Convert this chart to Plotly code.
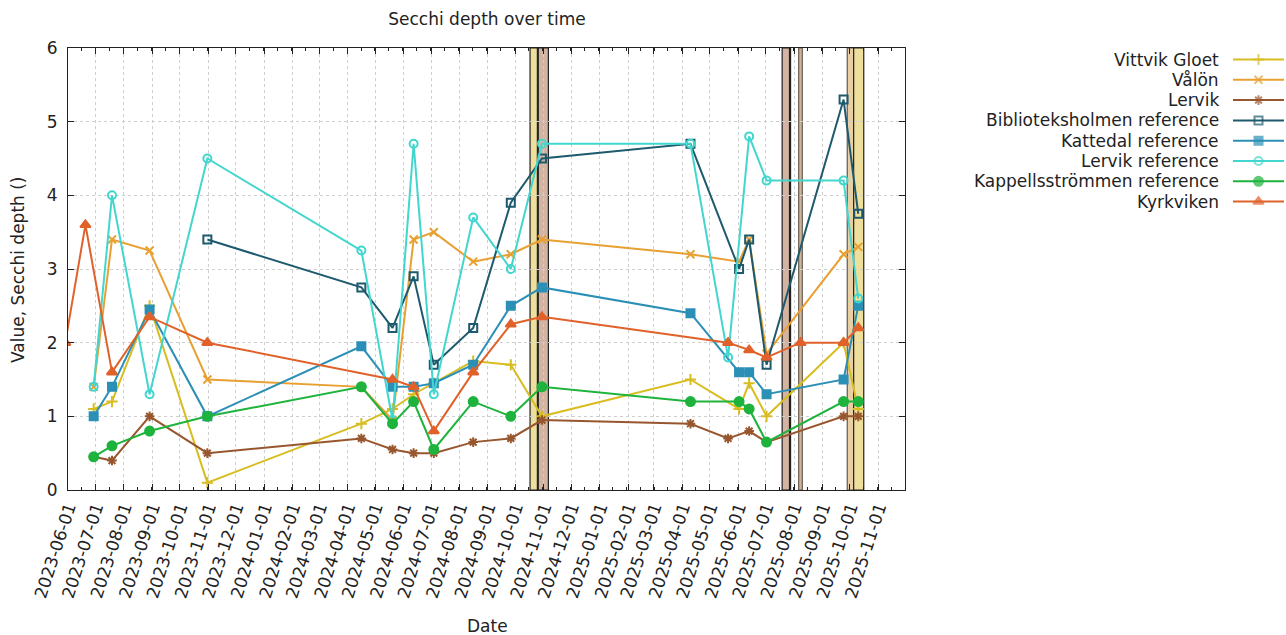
import plotly.graph_objects as go

# ---------------- data ----------------
series_names = [
    "Vittvik Gloet", "Vålön", "Lervik", "Biblioteksholmen reference",
    "Kattedal reference", "Lervik reference", "Kappellsströmmen reference", "Kyrkviken",
]

vittvik_dates = ["2023-06-29", "2023-07-19", "2023-08-29", "2023-10-31", "2024-04-16", "2024-05-20",
                 "2024-06-12", "2024-07-04", "2024-08-16", "2024-09-26", "2024-10-30", "2025-04-10",
                 "2025-06-02", "2025-06-13", "2025-07-02", "2025-09-24", "2025-10-10"]
vittvik_vals = [1.1, 1.2, 2.5, 0.1, 0.9, 1.1, 1.3, 1.45, 1.75, 1.7, 1.0, 1.5, 1.1, 1.45, 1.0, 2.0, 1.1]

valon_dates = ["2023-06-29", "2023-07-19", "2023-08-29", "2023-10-31", "2024-04-16", "2024-05-20",
               "2024-06-12", "2024-07-04", "2024-08-16", "2024-09-26", "2024-10-30", "2025-04-10",
               "2025-06-02", "2025-06-13", "2025-07-02", "2025-09-24", "2025-10-10"]
valon_vals = [1.4, 3.4, 3.25, 1.5, 1.4, 0.95, 3.4, 3.5, 3.1, 3.2, 3.4, 3.2, 3.1, 3.4, 1.85, 3.2, 3.3]

lervik_dates = ["2023-06-29", "2023-07-19", "2023-08-29", "2023-10-31", "2024-04-16", "2024-05-20",
                "2024-06-12", "2024-07-04", "2024-08-16", "2024-09-26", "2024-10-30", "2025-04-10",
                "2025-05-21", "2025-06-13", "2025-07-02", "2025-09-24", "2025-10-10"]
lervik_vals = [0.45, 0.4, 1.0, 0.5, 0.7, 0.55, 0.5, 0.5, 0.65, 0.7, 0.95, 0.9, 0.7, 0.8, 0.65, 1.0, 1.0]

biblio_dates = ["2023-10-31", "2024-04-16", "2024-05-20", "2024-06-12", "2024-07-04", "2024-08-16",
                "2024-09-26", "2024-10-30", "2025-04-10", "2025-06-02", "2025-06-13", "2025-07-02",
                "2025-09-24", "2025-10-10"]
biblio_vals = [3.4, 2.75, 2.2, 2.9, 1.7, 2.2, 3.9, 4.5, 4.7, 3.0, 3.4, 1.7, 5.3, 3.75]

kattedal_dates = ["2023-06-29", "2023-07-19", "2023-08-29", "2023-10-31", "2024-04-16", "2024-05-20",
                  "2024-06-12", "2024-07-04", "2024-08-16", "2024-09-26", "2024-10-30", "2025-04-10",
                  "2025-06-02", "2025-06-13", "2025-07-02", "2025-09-24", "2025-10-10"]
kattedal_vals = [1.0, 1.4, 2.45, 1.0, 1.95, 1.4, 1.4, 1.45, 1.7, 2.5, 2.75, 2.4, 1.6, 1.6, 1.3, 1.5, 2.5]

lervikref_dates = ["2023-06-29", "2023-07-19", "2023-08-29", "2023-10-31", "2024-04-16", "2024-05-20",
                   "2024-06-12", "2024-07-04", "2024-08-16", "2024-09-26", "2024-10-30", "2025-04-10",
                   "2025-05-21", "2025-06-13", "2025-07-02", "2025-09-24", "2025-10-10"]
lervikref_vals = [1.4, 4.0, 1.3, 4.5, 3.25, 0.95, 4.7, 1.3, 3.7, 3.0, 4.7, 4.7, 1.8, 4.8, 4.2, 4.2, 2.6]

kappell_dates = ["2023-06-29", "2023-07-19", "2023-08-29", "2023-10-31", "2024-04-16", "2024-05-20",
                 "2024-06-12", "2024-07-04", "2024-08-16", "2024-09-26", "2024-10-30", "2025-04-10",
                 "2025-06-02", "2025-06-13", "2025-07-02", "2025-09-24", "2025-10-10"]
kappell_vals = [0.45, 0.6, 0.8, 1.0, 1.4, 0.9, 1.2, 0.55, 1.2, 1.0, 1.4, 1.2, 1.2, 1.1, 0.65, 1.2, 1.2]

kyrk_dates = ["2023-05-29", "2023-06-20", "2023-07-19", "2023-08-29", "2023-10-31", "2024-05-20",
              "2024-06-12", "2024-07-04", "2024-08-16", "2024-09-26", "2024-10-30", "2025-05-21",
              "2025-06-13", "2025-07-02", "2025-08-08", "2025-09-24", "2025-10-10"]
kyrk_vals = [2.0, 3.6, 1.6, 2.35, 2.0, 1.5, 1.4, 0.8, 1.6, 2.25, 2.35, 2.0, 1.9, 1.8, 2.0, 2.0, 2.2]

# event bands (start, end)
band_starts = ["2024-10-17", "2024-10-26", "2025-07-19", "2025-08-06", "2025-09-28", "2025-10-05"]
band_ends = ["2024-10-25", "2024-11-06", "2025-07-27", "2025-08-10", "2025-10-05", "2025-10-16"]
band_kinds = ["yellow", "brown", "brown", "grey", "tan", "yellow"]
event_lines = ["2025-07-28"]

x_range = ["2023-06-01", "2025-11-30"]
y_range = [0, 6]

# ---------------- style ----------------
colors = ["#d8bd20", "#e8a032", "#98562e", "#1d5a6e", "#2b8fb6", "#42d6cf", "#1eb33c", "#e0622a"]
symbols = ["cross-thin-open", "x-thin-open", "asterisk-open", "square-open",
           "square", "circle-open", "circle", "triangle-up"]
sizes = [8, 8, 8, 8, 8, 8, 9, 9]
band_fill = {"yellow": "#eee09c", "brown": "#d3b4a2", "grey": "#c9b59f", "tan": "#e9cfa4"}
band_line = {"yellow": "#222222", "brown": "#222222", "grey": "#6b5f50", "tan": "#5a5a5a"}

FONT = "DejaVu Sans"
FS = 17
W, H = 1286, 635
ML, MT, MB = 68, 48, 145
plot_right = 905
dom_end = (plot_right - ML) / (W - ML)

all_dates = [vittvik_dates, valon_dates, lervik_dates, biblio_dates,
             kattedal_dates, lervikref_dates, kappell_dates, kyrk_dates]
all_vals = [vittvik_vals, valon_vals, lervik_vals, biblio_vals,
            kattedal_vals, lervikref_vals, kappell_vals, kyrk_vals]

fig = go.Figure()

for name, d, v, c, s, sz in zip(series_names, all_dates, all_vals, colors, symbols, sizes):
    fig.add_trace(go.Scatter(
        x=d, y=v, name=name, mode="lines+markers",
        line=dict(color=c, width=2),
        marker=dict(symbol=s, size=sz, color=c, line=dict(color=c, width=2)),
        showlegend=False, xaxis="x", yaxis="y",
    ))

# custom legend (text right, sample on right) on a hidden helper axis
for i, (name, c, s, sz) in enumerate(zip(series_names, colors, symbols, sizes)):
    fig.add_trace(go.Scatter(
        x=[0, 0.5, 1], y=[i, i, i], mode="lines+markers",
        line=dict(color=c, width=2),
        marker=dict(symbol=s, size=[0, sz, 0], color=c, line=dict(color=c, width=2)),
        showlegend=False, hoverinfo="skip", xaxis="x2", yaxis="y2",
    ))
    fig.add_annotation(
        x=(1221 - ML) / (W - ML), xref="paper", y=i, yref="y2",
        text=name, showarrow=False, xanchor="right", yanchor="middle",
        font=dict(family=FONT, size=FS, color="#222"),
    )

shapes = []
for s0, s1, k in zip(band_starts, band_ends, band_kinds):
    shapes.append(dict(type="rect", xref="x", yref="paper", x0=s0, x1=s1, y0=0, y1=1,
                       fillcolor=band_fill[k], line=dict(color=band_line[k], width=1.2),
                       layer="below"))
for e in event_lines:
    shapes.append(dict(type="line", xref="x", yref="paper", x0=e, x1=e, y0=0, y1=1,
                       line=dict(color="#222222", width=1.5), layer="below"))

axis_common = dict(
    showline=True, linecolor="#222", linewidth=1, mirror="allticks",
    ticks="inside", ticklen=6, tickcolor="#222", tickwidth=1,
    showgrid=True, gridcolor="#cfcfcf", griddash="dot", gridwidth=1,
    zeroline=False, tickfont=dict(family=FONT, size=FS, color="#222"),
)

fig.update_layout(
    autosize=True,
    margin=dict(l=ML, r=0, t=MT, b=MB, pad=0),
    paper_bgcolor="white", plot_bgcolor="white",
    shapes=shapes,
    title=dict(text="Secchi depth over time", x=487 / W, xanchor="center",
               y=1 - 19 / H, yanchor="middle", font=dict(family=FONT, size=FS, color="#222")),
    xaxis=dict(
        domain=[0, dom_end], type="date", range=x_range,
        dtick="M1", tick0="2023-06-01", tickformat="%Y-%m-%d", tickangle=-72,
        minor=dict(ticks="inside", ticklen=3, tickcolor="#222",
                   dtick=15.22 * 86400000, tick0="2023-06-01", showgrid=False),
        **axis_common,
    ),
    yaxis=dict(range=y_range, dtick=1, tick0=0, ticklabelstandoff=6, **axis_common),
    xaxis2=dict(domain=[(1233 - ML) / (W - ML), (1284 - ML) / (W - ML)], range=[0, 1],
                visible=False, anchor="y2", fixedrange=True),
    yaxis2=dict(domain=[0, 1], range=[(490 - 59.5) / 20.3, (48 - 59.5) / 20.3],
                visible=False, anchor="x2", fixedrange=True),
    annotations=list(fig.layout.annotations) + [
        dict(text="Date", x=(487 - ML) / (W - ML), xref="paper", y=-(626 - 490) / (490 - MT),
             yref="paper", showarrow=False, xanchor="center", yanchor="middle",
             font=dict(family=FONT, size=FS, color="#222")),
        dict(text="Value, Secchi depth ()", x=(18 - ML) / (W - ML), xref="paper",
             y=(490 - 270) / (490 - MT), yref="paper", showarrow=False, textangle=-90,
             xanchor="center", yanchor="middle",
             font=dict(family=FONT, size=FS, color="#222")),
    ],
)

fig.write_html("out.html", config={"responsive": True}, default_width="100%", default_height="100%")
